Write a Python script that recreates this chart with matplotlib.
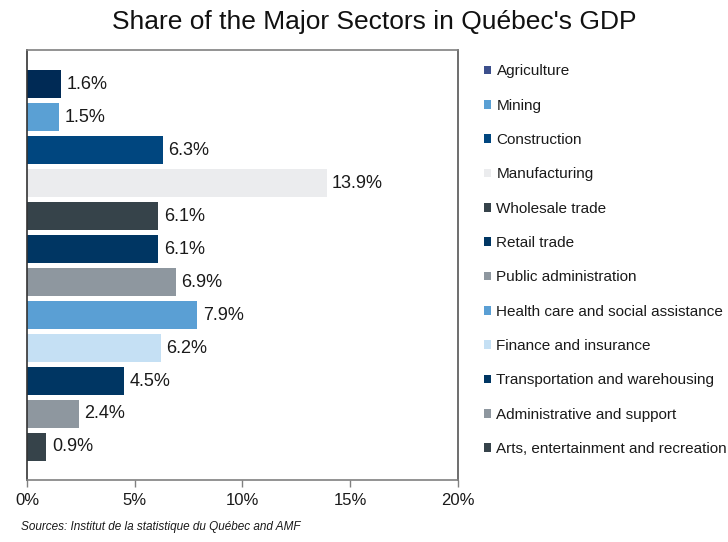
import matplotlib
matplotlib.use("Agg")
import matplotlib.pyplot as plt
from matplotlib.patches import Patch
from matplotlib.ticker import FuncFormatter

plt.rcParams['font.family'] = ['Liberation Sans', 'DejaVu Sans']

sectors = ['Agriculture', 'Mining', 'Construction', 'Manufacturing',
           'Wholesale trade', 'Retail trade', 'Public administration',
           'Health care and social assistance', 'Finance and insurance',
           'Transportation and warehousing', 'Administrative and support',
           'Arts, entertainment and recreation']
shares = [1.6, 1.5, 6.3, 13.9, 6.1, 6.1, 6.9, 7.9, 6.2, 4.5, 2.4, 0.9]
bar_colors = ['#002a55', '#5aa0d4', '#00467f', '#ebecee', '#36434a', '#003663',
              '#8e979f', '#5a9fd4', '#c5e0f4', '#003663', '#8e979f', '#36434a']
legend_colors = ['#3c4f8c'] + bar_colors[1:]
x_ticks = [0, 5, 10, 15, 20]

fig = plt.figure(figsize=(7.28, 5.42), dpi=100)
ax = fig.add_axes([0.0371, 0.1144, 0.592, 0.7933])

pos = list(range(len(sectors)))
bars = ax.barh(pos, shares, height=0.82, color=bar_colors)
ax.bar_label(bars, labels=[f'{v:.1f}%' for v in shares], padding=4,
             fontsize=13, color='#1a1a1a')

ax.set_ylim(12.0, -1.03)
ax.set_xlim(0, 20)
ax.set_xticks(x_ticks)
ax.xaxis.set_major_formatter(FuncFormatter(lambda v, p: f'{v:.0f}%'))
ax.tick_params(axis='x', labelsize=12, length=5, width=1, color='#808080',
               pad=4.5, labelcolor='#1a1a1a')
ax.set_yticks([])

ax.spines['left'].set_color('#333333')
ax.spines['top'].set_color('#808080')
ax.spines['right'].set_color('#555555')
ax.spines['bottom'].set_color('#808080')
for s in ax.spines.values():
    s.set_linewidth(1.2)

handles = [Patch(facecolor=c, edgecolor='none') for c in legend_colors]
fig.legend(handles, sectors, loc='upper left', bbox_to_anchor=(0.665, 0.881),
           frameon=False, fontsize=11, handlelength=0.48, handleheight=0.48,
           handletextpad=0.33, labelspacing=1.33, borderaxespad=0,
           borderpad=0, labelcolor='#1a1a1a')

fig.text(0.514, 0.96, "Share of the Major Sectors in Québec's GDP",
         ha='center', va='center', fontsize=19, color='#111111')
fig.text(0.029, 0.028, 'Sources: Institut de la statistique du Québec and AMF',
         ha='left', va='center', fontsize=8.5, style='italic', color='#1a1a1a')

fig.savefig('out.png', dpi=100)
